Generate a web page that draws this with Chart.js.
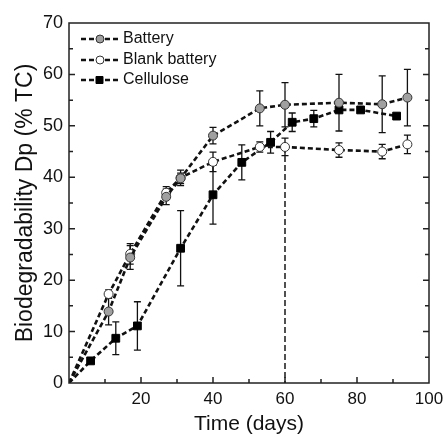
<!DOCTYPE html>
<html>
<head>
<meta charset="utf-8">
<script src="https://cdn.jsdelivr.net/npm/chart.js@4"></script>
<style>
  body { margin: 0; background: #fff; }
</style>
</head>
<body>
<canvas id="myChart" width="444" height="437"></canvas>
<script>
// Datos
const batteryDays = [0, 11, 17, 27, 31, 40, 53, 60, 75, 87, 94]
const batteryDp = [0, 13.9, 24.4, 36.2, 39.8, 48.1, 53.4, 54.1, 54.5, 54.2, 55.5]
const batteryErr = [0, 2.6, 2.3, 1.5, 1.0, 1.6, 3.4, 4.3, 5.5, 5.5, 5.5]

const blankDays = [0, 11, 17, 27, 31, 40, 53, 60, 75, 87, 94]
const blankDp = [0, 17.3, 25.1, 37.0, 39.9, 43.0, 45.9, 45.9, 45.3, 45.0, 46.4]
const blankErr = [0, 0.8, 2.0, 1.2, 1.5, 1.9, 1.0, 1.7, 1.4, 1.4, 1.8]

const celluloseDays = [0, 6, 13, 19, 31, 40, 48, 56, 62, 68, 75, 81, 91]
const celluloseDp = [0, 4.3, 8.7, 11.1, 26.2, 36.6, 42.9, 46.8, 50.7, 51.4, 53.1, 53.1, 51.9]
const celluloseErr = [0, 0, 3.2, 4.7, 7.3, 5.7, 3.4, 2.1, 1.8, 1.6, 0, 0, 0]

const markerLineDays = [60, 60]
const markerLineDp = [45.9, 0]

const legendLabels = ["Battery", "Blank battery", "Cellulose"]
const xTicks = [20, 40, 60, 80, 100]

const FONT = 'Arial, "Liberation Sans", sans-serif'

const toPoints = (xs, ys) => xs.map((x, i) => ({ x: x, y: ys[i] }))
const radii = (xs, r) => xs.map((x) => (x === 0 ? 0 : r))

const errSets = [
    [batteryDays, batteryDp, batteryErr],
    [blankDays, blankDp, blankErr],
    [celluloseDays, celluloseDp, celluloseErr],
]

// barras de error con las escalas del grafico
const errorBars = {
    id: "errorBars",
    beforeDatasetsDraw(chart) {
        const { ctx, scales: { x, y } } = chart
        ctx.save()
        ctx.strokeStyle = "#111"
        ctx.lineWidth = 1.3
        errSets.forEach(([xs, ys, es]) => {
            xs.forEach((d, i) => {
                if (!es[i]) return
                const px = x.getPixelForValue(d)
                const top = y.getPixelForValue(ys[i] + es[i])
                const bot = y.getPixelForValue(ys[i] - es[i])
                ctx.beginPath()
                ctx.moveTo(px, top); ctx.lineTo(px, bot)
                ctx.moveTo(px - 3.5, top); ctx.lineTo(px + 3.5, top)
                ctx.moveTo(px - 3.5, bot); ctx.lineTo(px + 3.5, bot)
                ctx.stroke()
            })
        })
        ctx.restore()
    },
}

// marco, marcas hacia adentro y leyenda
const frameAndLegend = {
    id: "frameAndLegend",
    afterDraw(chart) {
        const { ctx, chartArea: a, scales: { x, y } } = chart
        ctx.save()
        ctx.strokeStyle = "#222"
        ctx.lineWidth = 1.5
        ctx.strokeRect(a.left, a.top, a.right - a.left, a.bottom - a.top)
        ctx.beginPath()
        for (let v = 10; v < 100; v += 10) {
            const px = x.getPixelForValue(v)
            const len = v % 20 === 0 ? 6 : 4
            ctx.moveTo(px, a.bottom); ctx.lineTo(px, a.bottom - len)
        }
        for (let v = 5; v < 70; v += 5) {
            const py = y.getPixelForValue(v)
            const len = v % 10 === 0 ? 6 : 4
            ctx.moveTo(a.left, py); ctx.lineTo(a.left + len, py)
            ctx.moveTo(a.right, py); ctx.lineTo(a.right - len, py)
        }
        ctx.stroke()

        // leyenda
        const ys = [39, 60, 80]
        chart.data.datasets.slice(0, 3).forEach((ds, i) => {
            const yy = ys[i]
            ctx.strokeStyle = "#111"
            ctx.lineWidth = 2.5
            ctx.setLineDash([5, 3])
            ctx.beginPath()
            ctx.moveTo(81, yy); ctx.lineTo(119, yy)
            ctx.stroke()
            ctx.setLineDash([])
            ctx.lineWidth = 1
            ctx.fillStyle = ds.pointBackgroundColor
            ctx.strokeStyle = ds.pointBorderColor
            ctx.beginPath()
            if (ds.pointStyle === "rect") {
                ctx.rect(96, yy - 3.5, 7, 7)
            } else {
                ctx.arc(100, yy, 4, 0, Math.PI * 2)
            }
            ctx.fill(); ctx.stroke()
            ctx.fillStyle = "#111"
            ctx.font = "16px " + FONT
            ctx.textBaseline = "middle"
            ctx.fillText(legendLabels[i], 123, yy)
        })
        ctx.restore()
    },
}

const lineBase = {
    showLine: true,
    borderColor: "#111",
    borderWidth: 2.6,
    borderDash: [5, 3],
    pointBorderColor: "#333",
    pointBorderWidth: 1,
    fill: false,
}

const data = {
    datasets: [
        {
            ...lineBase,
            label: legendLabels[0],
            data: toPoints(batteryDays, batteryDp),
            pointBackgroundColor: "#a0a0a0",
            pointRadius: radii(batteryDays, 4.5),
            pointStyle: "circle",
        },
        {
            ...lineBase,
            label: legendLabels[1],
            data: toPoints(blankDays, blankDp),
            pointBackgroundColor: "#ffffff",
            pointRadius: radii(blankDays, 4.5),
            pointStyle: "circle",
        },
        {
            ...lineBase,
            label: legendLabels[2],
            data: toPoints(celluloseDays, celluloseDp),
            pointBackgroundColor: "#000000",
            pointBorderColor: "#000000",
            pointRadius: radii(celluloseDays, 5.5),
            pointStyle: "rect",
        },
        {
            label: "60 d",
            data: toPoints(markerLineDays, markerLineDp),
            showLine: true,
            borderColor: "#333",
            borderWidth: 1.7,
            borderDash: [6, 3],
            pointRadius: 0,
        },
    ],
}

const config = {
    type: "scatter",
    data,
    options: {
        responsive: false,
        animation: false,
        layout: { padding: { top: 23, right: 15, bottom: 0, left: 0 } },
        plugins: {
            legend: { display: false },
            tooltip: { enabled: false },
        },
        scales: {
            x: {
                type: "linear",
                min: 0,
                max: 100,
                afterFit: (s) => { s.height = 54; s.paddingRight = 0; s.paddingLeft = 0 },
                afterBuildTicks: (s) => { s.ticks = xTicks.map((v) => ({ value: v })) },
                grid: { display: false, drawTicks: false },
                border: { display: false },
                ticks: { color: "#111", font: { size: 17, family: FONT }, padding: 6 },
                title: {
                    display: true,
                    text: "Time (days)",
                    color: "#111",
                    font: { size: 21, family: FONT },
                    padding: { top: 0, bottom: 0 },
                },
            },
            y: {
                min: 0,
                max: 70,
                afterFit: (s) => { s.width = 69 },
                grid: { display: false, drawTicks: false },
                border: { display: false },
                ticks: { stepSize: 10, color: "#111", font: { size: 18, family: FONT }, padding: 6 },
                title: {
                    display: true,
                    text: "Biodegradability Dp (% TC)",
                    color: "#111",
                    font: { size: 23, family: FONT },
                    padding: { top: 12, bottom: 0 },
                },
            },
        },
    },
    plugins: [errorBars, frameAndLegend],
}

const myChartElement = document.getElementById("myChart")
new Chart(myChartElement, config)
</script>
</body>
</html>
